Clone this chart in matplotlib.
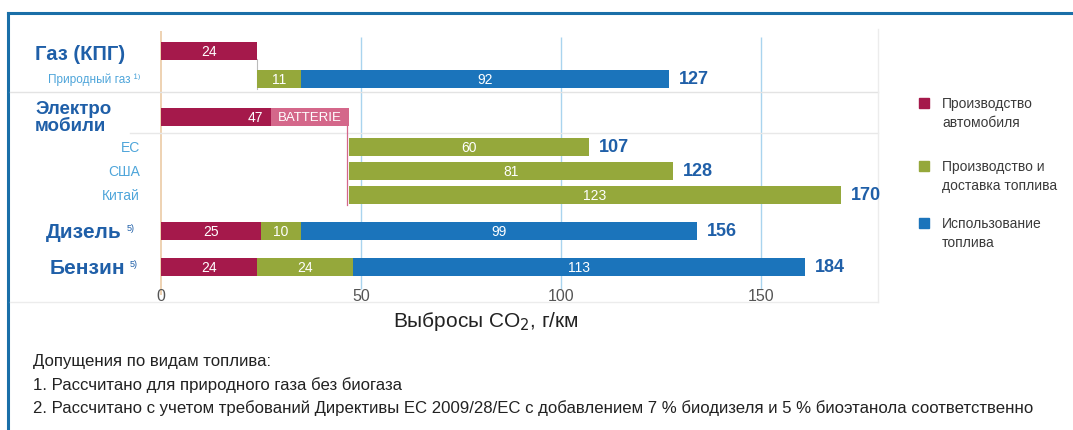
import matplotlib.pyplot as plt
import matplotlib.patches as mpatches

# data
rows = ['gas_car', 'gas_fuel', 'ev_car', 'ev_eu', 'ev_us', 'ev_cn', 'diesel', 'petrol']
car = [24, 0, 47, 0, 0, 0, 25, 24]
battery = [0, 0, 19.5, 0, 0, 0, 0, 0]
fuel_prod = [0, 11, 0, 60, 81, 123, 10, 24]
fuel_use = [0, 92, 0, 0, 0, 0, 99, 113]
start = [0, 24, 0, 47, 47, 47, 0, 0]
totals = ['', '127', '', '107', '128', '170', '156', '184']
big_labels = ['Газ (КПГ)', 'Электро\nмобили', 'Дизель', 'Бензин']
small_labels = ['Природный газ ¹⁾', 'ЕС', 'США', 'Китай']
xticks = [0, 50, 100, 150]
legend_labels = ['Производство\nавтомобиля', 'Производство и\nдоставка топлива', 'Использование\nтоплива']
notes = ['Допущения по видам топлива:',
         '1. Рассчитано для природного газа без биогаза',
         '2. Рассчитано с учетом требований Директивы ЕС 2009/28/ЕС с добавлением 7 % биодизеля и 5 % биоэтанола соответственно']

# layout (pixel rows, 4 px per unit)
ypos = [52, 80, 118, 148, 172, 196, 232, 268]
bar_h = 18
c_car, c_bat, c_prod, c_use = '#A5194B', '#D4678A', '#95A83B', '#1B74BB'
c_title = '#1F5FA8'
c_light = '#4EA5DA'
sans = ['Liberation Sans', 'DejaVu Sans']

fig = plt.figure(figsize=(10.73, 4.31), dpi=100)
ax = fig.add_axes([0, 0, 1, 1])
ax.set_xlim(-161 / 4, (1073 - 161) / 4)
ax.set_ylim(431, 0)
ax.axis('off')

def px(x):
    return (x - 161) / 4

# frame and background separators
ax.plot([px(8), px(8)], [14, 431], color='#1A6FA8', lw=2.2)
ax.plot([px(8), px(1073)], [14, 14], color='#1A6FA8', lw=2.2)
ax.plot([px(10), px(878)], [93, 93], color='#E3E3E3', lw=1)
ax.plot([px(130), px(878)], [134, 134], color='#E8E8E8', lw=1)
ax.plot([px(878), px(878)], [30, 303], color='#ECECEC', lw=1)
ax.plot([px(10), px(878)], [303, 303], color='#ECECEC', lw=1)

# grid
ax.vlines(xticks[1:], 38, 290, color='#A9D4EE', lw=1, zorder=1)
ax.vlines(0, 32, 296, color='#EBCBA5', lw=1.2, zorder=1)
for t in xticks:
    ax.text(t, 297, str(t), ha='center', va='center', fontsize=11.5, color='#555555', family=sans)

# connectors
ax.plot([24, 24], [60, 90], color='#BBBBBB', lw=0.8)
ax.plot([46.5, 46.5], [127, 206], color='#D4678A', lw=0.9)

# bars
ax.barh(ypos, car, left=start, height=bar_h, color=c_car, zorder=3)
bat_left = [c - b for c, b in zip(car, battery)]
ax.barh(ypos, battery, left=bat_left, height=bar_h, color=c_bat, zorder=4)
prod_left = [s + c for s, c in zip(start, car)]
ax.barh(ypos, fuel_prod, left=prod_left, height=bar_h, color=c_prod, zorder=3)
use_left = [p + f for p, f in zip(prod_left, fuel_prod)]
ax.barh(ypos, fuel_use, left=use_left, height=bar_h, color=c_use, zorder=3)

for i, y in enumerate(ypos):
    if car[i]:
        if battery[i]:
            ax.text(car[i] - battery[i] - 2, y, str(car[i]), ha='right', va='center', color='white', fontsize=10, family=sans, zorder=5)
            ax.text(car[i] - battery[i] / 2, y, 'BATTERIE', ha='center', va='center', color='white', fontsize=9.5, family=sans, zorder=5)
        else:
            ax.text(start[i] + car[i] / 2, y, str(car[i]), ha='center', va='center', color='white', fontsize=10, family=sans, zorder=5)
    if fuel_prod[i]:
        ax.text(prod_left[i] + fuel_prod[i] / 2, y, str(fuel_prod[i]), ha='center', va='center', color='white', fontsize=10, family=sans, zorder=5)
    if fuel_use[i]:
        ax.text(use_left[i] + fuel_use[i] / 2, y, str(fuel_use[i]), ha='center', va='center', color='white', fontsize=10, family=sans, zorder=5)
    if totals[i]:
        end = use_left[i] + fuel_use[i]
        ax.text(end + 2.5, y, totals[i], ha='left', va='center', color=c_title, fontsize=13, fontweight='bold', family=sans)

# row labels
ax.text(px(35), 55, big_labels[0], ha='left', va='center', color=c_title, fontsize=14.5, fontweight='bold', family=sans)
ax.text(px(35), 118, big_labels[1], ha='left', va='center', color=c_title, fontsize=13.5, fontweight='bold', family=sans, linespacing=0.95)
ax.text(px(122), 233, big_labels[2], ha='right', va='center', color=c_title, fontsize=15, fontweight='bold', family=sans)
ax.text(px(125), 269, big_labels[3], ha='right', va='center', color=c_title, fontsize=15, fontweight='bold', family=sans)
ax.text(px(127), 229, '5)', ha='left', va='center', color=c_title, fontsize=6.5, family=sans)
ax.text(px(130), 265, '5)', ha='left', va='center', color=c_title, fontsize=6.5, family=sans)
ax.text(px(140), 80, small_labels[0], ha='right', va='center', color=c_light, fontsize=8.5, family=sans)
for lab, y in zip(small_labels[1:], ypos[3:6]):
    ax.text(px(140), y, lab, ha='right', va='center', color=c_light, fontsize=10, family=sans)

# legend
for col, lab, y in zip([c_car, c_prod, c_use], legend_labels, [104, 167, 224]):
    ax.add_patch(mpatches.Rectangle((px(919), y - 5), 2.6, 10, color=col))
    ax.text(px(942), y - 7, lab, ha='left', va='top', color='#3A3A3A', fontsize=10, family=sans, linespacing=1.45)

# axis title and notes
ax.text(px(486), 322, 'Выбросы CO$_2$, г/км', ha='center', va='center', fontsize=15, color='#222222', family=sans)
for note, y in zip(notes, [362, 385, 408]):
    ax.text(px(33), y, note, ha='left', va='center', fontsize=12.1, color='#222222', family=sans)

plt.savefig('out.png', dpi=100)
